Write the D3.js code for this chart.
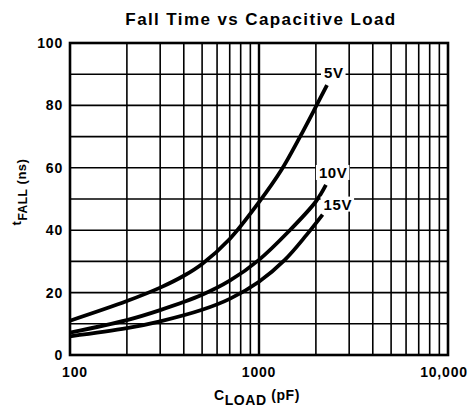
<!DOCTYPE html>
<html>
<head>
<meta charset="utf-8">
<script src="https://cdn.jsdelivr.net/npm/d3@7"></script>
<style>
  html, body { margin: 0; padding: 0; background: #fff; }
  svg { display: block; }
  text { font-family: "Liberation Sans", Arial, Helvetica, sans-serif; font-weight: bold; fill: #000; }
</style>
</head>
<body>
<svg id="chart" width="470" height="407"></svg>
<script>
// ---- data ----
const title = "Fall Time vs Capacitive Load";
const xTickValues = [100, 1000, 10000];
const xTickLabels = ["100", "1000", "10,000"];
const yTickValues = [0, 20, 40, 60, 80, 100];
const yTickLabels = ["0", "20", "40", "60", "80", "100"];
const seriesNames = ["5V", "10V", "15V"];
const cap5 = [100, 200, 300, 400, 500, 700, 1000, 1313, 1650, 2000, 2290];
const fall5 = [11, 17.3, 21.6, 25.4, 29.2, 37.2, 49, 59.3, 70, 79.6, 86.5];
const cap10 = [100, 200, 300, 500, 700, 1000, 1430, 2000, 2260];
const fall10 = [7.2, 11.2, 14.4, 19.3, 23.8, 30.5, 39.5, 49.2, 54.5];
const cap15 = [100, 200, 300, 500, 700, 1000, 1370, 1785, 2170];
const fall15 = [6, 8.6, 10.8, 14.5, 18, 23.5, 30.5, 38.5, 45];

const series = [
  { name: seriesNames[0], x: cap5, y: fall5 },
  { name: seriesNames[1], x: cap10, y: fall10 },
  { name: seriesNames[2], x: cap15, y: fall15 }
];

// ---- layout ----
const svg = d3.select("#chart");
const pLeft = 70, pRight = 448, pTop = 43, pBottom = 355;

const x = d3.scaleLog().domain([100, 10000]).range([pLeft, pRight]);
const y = d3.scaleLinear().domain([0, 100]).range([pBottom, pTop]);

// grid: vertical
const vGrid = [];
for (let d = 100; d < 10000; d *= 10) {
  for (let k = 1; k <= 9; k++) vGrid.push(d * k);
}
vGrid.push(10000);
svg.append("g").selectAll("line").data(vGrid).join("line")
  .attr("x1", d => x(d)).attr("x2", d => x(d))
  .attr("y1", pTop).attr("y2", pBottom)
  .attr("stroke", "#000")
  .attr("stroke-width", d => (d === 1000 ? 2.4 : 1.6));

// grid: horizontal
const hGrid = d3.range(0, 101, 10);
svg.append("g").selectAll("line").data(hGrid).join("line")
  .attr("x1", pLeft).attr("x2", pRight)
  .attr("y1", d => y(d)).attr("y2", d => y(d))
  .attr("stroke", "#000").attr("stroke-width", 1.6);

// frame
svg.append("rect")
  .attr("x", pLeft).attr("y", pTop)
  .attr("width", pRight - pLeft).attr("height", pBottom - pTop)
  .attr("fill", "none").attr("stroke", "#000").attr("stroke-width", 2.6);

// curves
const line = d3.line()
  .x(d => x(d[0])).y(d => y(d[1]))
  .curve(d3.curveCatmullRom.alpha(0.5));
svg.append("g").selectAll("path").data(series).join("path")
  .attr("d", s => line(s.x.map((v, i) => [v, s.y[i]])))
  .attr("fill", "none").attr("stroke", "#000").attr("stroke-width", 3.8);

// series labels with white background
const labelPos = [
  { dx: -3, dy: -7 },
  { dx: -7, dy: -7 },
  { dx: 1, dy: -5 }
];
series.forEach((s, i) => {
  const n = s.x.length;
  const px = x(s.x[n - 1]) + labelPos[i].dx;
  const py = y(s.y[n - 1]) + labelPos[i].dy;
  const g = svg.append("g");
  const t = g.append("text")
    .attr("x", px).attr("y", py)
    .attr("font-size", 15).attr("letter-spacing", 0.6)
    .text(s.name);
  const bb = t.node().getBBox();
  g.insert("rect", "text")
    .attr("x", bb.x - 3).attr("y", bb.y + 1)
    .attr("width", bb.width + 5).attr("height", bb.height - 2)
    .attr("fill", "#fff");
});

// tick labels
svg.append("g").selectAll("text").data(xTickValues).join("text")
  .attr("x", (d, i) => x(d) + (i === 0 ? 5 : (i === 2 ? -4 : 0)))
  .attr("y", 377)
  .attr("text-anchor", "middle")
  .attr("font-size", 14).attr("letter-spacing", 0.8)
  .text((d, i) => xTickLabels[i]);

svg.append("g").selectAll("text").data(yTickValues).join("text")
  .attr("x", 63)
  .attr("y", d => y(d) + 5)
  .attr("text-anchor", "end")
  .attr("font-size", 14).attr("letter-spacing", 0.8)
  .text((d, i) => yTickLabels[i]);

// title
svg.append("text")
  .attr("x", 261).attr("y", 25)
  .attr("text-anchor", "middle")
  .attr("font-size", 17).attr("letter-spacing", 1.4)
  .text(title);

// x axis title: C_LOAD (pF)
const xt = svg.append("text").attr("x", 257).attr("y", 400)
  .attr("text-anchor", "middle").attr("font-size", 14).attr("letter-spacing", 0.6);
xt.append("tspan").text("C");
xt.append("tspan").attr("dy", 5).attr("font-size", 14).text("LOAD");
xt.append("tspan").attr("dy", -5).text(" (pF)");

// y axis title: t_FALL (ns)
const yt = svg.append("text")
  .attr("transform", "translate(21,192) rotate(-90)")
  .attr("text-anchor", "middle").attr("font-size", 13).attr("letter-spacing", 0.5);
yt.append("tspan").text("t");
yt.append("tspan").attr("dy", 6).attr("font-size", 12).text("FALL");
yt.append("tspan").attr("dy", -1).text(" (ns)");
</script>
</body>
</html>
